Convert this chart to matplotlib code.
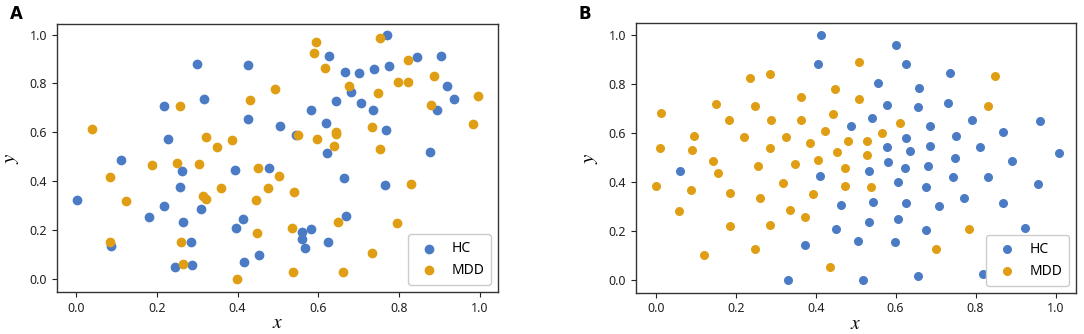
import matplotlib.pyplot as plt
import numpy as np

# panel A
a_hc_x = [0.299, 0.425, 0.217, 0.316, 0.425, 0.505, 0.227, 0.112, 0.262, 0.394, 0.479, 0.257,
          0.002, 0.218, 0.309, 0.182, 0.266, 0.413, 0.397, 0.087, 0.285, 0.454, 0.417, 0.244, 0.288,
          0.769, 0.626, 0.845, 0.903, 0.665, 0.700, 0.739, 0.776, 0.681, 0.919, 0.937, 0.644,
          0.705, 0.735, 0.895, 0.582, 0.619, 0.544, 0.767, 0.622, 0.876, 0.663, 0.765, 0.668,
          0.559, 0.582, 0.559, 0.566, 0.623]
a_hc_y = [0.879, 0.877, 0.708, 0.735, 0.654, 0.627, 0.573, 0.485, 0.442, 0.444, 0.453, 0.375,
          0.322, 0.299, 0.285, 0.254, 0.232, 0.244, 0.207, 0.136, 0.153, 0.098, 0.068, 0.049, 0.056,
          0.997, 0.911, 0.909, 0.913, 0.845, 0.844, 0.860, 0.870, 0.765, 0.789, 0.736, 0.728,
          0.721, 0.693, 0.690, 0.690, 0.637, 0.589, 0.609, 0.514, 0.521, 0.414, 0.384, 0.256,
          0.192, 0.204, 0.162, 0.126, 0.151]
a_mdd_x = [0.493, 0.430, 0.257, 0.040, 0.323, 0.387, 0.349, 0.188, 0.251, 0.304, 0.451, 0.502,
           0.083, 0.358, 0.476, 0.315, 0.323, 0.125, 0.446, 0.447, 0.085, 0.259, 0.264, 0.399,
           0.754, 0.594, 0.590, 0.616, 0.823, 0.886, 0.797, 0.821, 0.677, 0.748, 0.996, 0.879,
           0.984, 0.733, 0.550, 0.643, 0.644, 0.596, 0.638, 0.753, 0.541, 0.829, 0.650, 0.795,
           0.535, 0.733, 0.538, 0.662]
a_mdd_y = [0.778, 0.732, 0.708, 0.615, 0.579, 0.569, 0.541, 0.465, 0.476, 0.469, 0.454, 0.423,
           0.419, 0.374, 0.371, 0.341, 0.329, 0.318, 0.322, 0.187, 0.150, 0.150, 0.060, 0.000,
           0.984, 0.971, 0.926, 0.862, 0.897, 0.831, 0.807, 0.806, 0.791, 0.760, 0.750, 0.710,
           0.635, 0.623, 0.588, 0.603, 0.592, 0.571, 0.543, 0.532, 0.355, 0.389, 0.234, 0.229,
           0.210, 0.108, 0.027, 0.027]

# panel B
b_hc_x = [0.4125, 0.405, 0.062, 0.411, 0.45, 0.373, 0.33,
          0.600, 0.6265, 0.736, 0.5565, 0.658, 0.579, 0.656, 0.7315, 0.541, 0.7915, 0.960,
          0.4875, 0.685, 0.869, 0.6265, 0.750, 0.5775, 0.686, 0.8115, 0.635, 1.0075, 0.5815,
          0.749, 0.8915, 0.624, 0.680, 0.534, 0.7425, 0.831, 0.606, 0.675, 0.9565, 0.543,
          0.6265, 0.464, 0.708, 0.770, 0.869, 0.534, 0.605, 0.676, 0.924, 0.505, 0.598,
          0.518, 0.656, 0.8175]
b_hc_y = [1.0, 0.883, 0.444, 0.424, 0.21, 0.144, 0.0,
          0.960, 0.880, 0.846, 0.803, 0.782, 0.713, 0.705, 0.722, 0.660, 0.654, 0.648,
          0.630, 0.629, 0.604, 0.580, 0.586, 0.543, 0.547, 0.543, 0.527, 0.518, 0.483,
          0.499, 0.486, 0.458, 0.464, 0.445, 0.422, 0.422, 0.401, 0.381, 0.392, 0.318,
          0.316, 0.306, 0.301, 0.335, 0.313, 0.235, 0.249, 0.203, 0.211, 0.159, 0.156,
          0.000, 0.015, 0.026]
b_mdd_x = [0.0125, 0.010, 0.0, 0.058, 0.0875, 0.091, 0.096, 0.121, 0.144, 0.155, 0.150, 0.184,
           0.185, 0.185, 0.220, 0.2365, 0.2475, 0.256, 0.261, 0.249, 0.286, 0.289, 0.286, 0.286,
           0.3175, 0.3265, 0.336, 0.348, 0.363, 0.3625, 0.386, 0.374, 0.393, 0.4065, 0.4225,
           0.4425, 0.449, 0.4525, 0.4365,
           0.5075, 0.849, 0.5075, 0.830, 0.6115, 0.565, 0.480, 0.5275, 0.529, 0.474, 0.4725,
           0.539, 0.784, 0.7015]
b_mdd_y = [0.682, 0.537, 0.385, 0.282, 0.367, 0.529, 0.588, 0.101, 0.486, 0.435, 0.717, 0.653,
           0.355, 0.220, 0.582, 0.823, 0.710, 0.464, 0.335, 0.125, 0.840, 0.654, 0.540, 0.223,
           0.397, 0.585, 0.286, 0.475, 0.748, 0.654, 0.558, 0.256, 0.350, 0.491, 0.607,
           0.679, 0.781, 0.521, 0.052,
           0.891, 0.833, 0.740, 0.709, 0.643, 0.600, 0.566, 0.566, 0.510, 0.456, 0.384,
           0.381, 0.207, 0.128]

ticks = [0.0, 0.2, 0.4, 0.6, 0.8, 1.0]
blue = '#4a7bc4'
orange = '#e09e14'

plt.rcParams['font.family'] = ['Noto Sans', 'DejaVu Sans']
plt.rcParams['mathtext.fontset'] = 'stix'

fig = plt.figure(figsize=(10.84, 3.34), dpi=100)
ax1 = fig.add_axes([0.0526, 0.1257, 0.4068, 0.8024])
ax2 = fig.add_axes([0.5864, 0.1237, 0.4062, 0.8064])

panels = [(ax1, a_hc_x, a_hc_y, a_mdd_x, a_mdd_y, 36, (-0.047, 1.045), (-0.053, 1.043)),
          (ax2, b_hc_x, b_hc_y, b_mdd_x, b_mdd_y, 30, (-0.05, 1.051), (-0.052, 1.048))]
for ax, hx, hy, mx, my, s, xl, yl in panels:
    ax.scatter(hx, hy, s=s, color=blue, label='HC', zorder=2)
    ax.scatter(mx, my, s=s, color=orange, label='MDD', zorder=3)
    ax.set_xlim(*xl)
    ax.set_ylim(*yl)
    ax.set_xticks(ticks)
    ax.set_yticks(ticks)
    ax.tick_params(labelsize=9, length=3.5, width=0.8, colors='#222222')
    for sp in ax.spines.values():
        sp.set_color('#333333')
        sp.set_linewidth(1.0)
    ax.set_xlabel('$x$', fontsize=14, labelpad=-1)
    ax.set_ylabel('$y$', fontsize=15, labelpad=6)
    ax.legend(loc='lower right', fontsize=10, handletextpad=0.6, borderpad=0.5,
              markerscale=1.0, framealpha=1.0, edgecolor='#cccccc')

fig.text(0.009, 0.985, 'A', fontsize=12, fontweight='bold', va='top', family='DejaVu Sans')
fig.text(0.534, 0.985, 'B', fontsize=12, fontweight='bold', va='top', family='DejaVu Sans')

fig.savefig('out.png', dpi=100)
